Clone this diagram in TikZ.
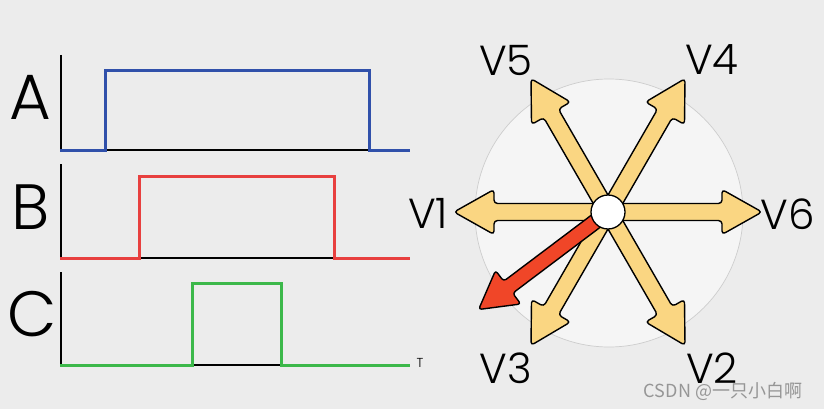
\documentclass[tikz,border=0pt]{standalone}
\usepackage{fontspec}
\setmainfont{Poppins Light}
\newfontfamily\cjk{Noto Sans CJK SC}
\definecolor{bgc}{RGB}{236,236,236}
\definecolor{circfill}{RGB}{245,245,245}
\definecolor{circline}{RGB}{205,205,205}
\definecolor{wblue}{RGB}{48,80,170}
\definecolor{wred}{RGB}{232,64,63}
\definecolor{wgreen}{RGB}{60,184,74}
\definecolor{yfill}{RGB}{250,214,130}
\definecolor{rfill}{RGB}{240,70,40}
\definecolor{wmark}{RGB}{150,150,150}
\tikzset{
  axisline/.style={black, line width=2.2pt},
  baseline/.style={black, line width=2.6pt},
  wave/.style={line width=3pt, line join=miter},
  biglabel/.style={inner sep=0pt, font=\fontsize{64}{64}\selectfont},
  vlabel/.style={inner sep=0pt, font=\fontsize{42}{42}\selectfont},
  yarrow/.style={fill=yfill, draw=black, line width=1.4pt, rounded corners=3.5pt, line join=round},
  rarrow/.style={fill=rfill, draw=black, line width=1.4pt, rounded corners=3pt, line join=round},
}
\begin{document}
\begin{tikzpicture}[x=1pt,y=-1pt]
\useasboundingbox (0,0) rectangle (824,409);
\fill[bgc] (0,0) rectangle (824,409);

% waveform A
\draw[axisline] (61,55) -- (61,151);
\draw[baseline] (105,150) -- (369,150);
\draw[wave, wblue] (60,150) -- (105,150) -- (105,70.5) -- (369,70.5) -- (369,150) -- (410,150);
\node[biglabel] (la) at (30,97) {A};

% waveform B
\draw[axisline] (61,164) -- (61,259);
\draw[baseline] (139,258) -- (334,258);
\draw[wave, wred] (60,258) -- (139,258) -- (139,176) -- (334,176) -- (334,258) -- (410,258);
\node[biglabel] (lb) at (31,207) {B};

% waveform C
\draw[axisline] (61,272) -- (61,366);
\draw[baseline] (192,365) -- (281,365);
\draw[wave, wgreen] (60,365) -- (192,365) -- (192,283) -- (281,283) -- (281,365) -- (410,365);
\node[biglabel] (lc) at (32,314) {C};
\node[inner sep=0pt, font=\fontsize{13}{13}\selectfont] (lt) at (420,363) {T};

% vector diagram
\draw[fill=circfill, draw=circline, line width=0.7pt] (609,213) circle (134pt);
\foreach \ang in {0,120,60}{
  \begin{scope}[shift={(608,212)}, rotate=\ang]
    \draw[yarrow] (-154,0) -- (-114,-22.5) -- (-114,-8.5) -- (114,-8.5) -- (114,-22.5)
      -- (154,0) -- (114,22.5) -- (114,8.5) -- (-114,8.5) -- (-114,22.5) -- cycle;
  \end{scope}
}
\begin{scope}[shift={(608,212)}, rotate=217]
  \draw[rarrow] (0,-7.5) -- (125,-7.5) -- (125,-21) -- (162,0) -- (125,21) -- (125,7.5) -- (0,7.5) -- cycle;
\end{scope}
\node[draw=black, circle, fill=white, minimum size=34pt, inner sep=0pt, line width=1.3pt] (c) at (608,212) {};

\node[vlabel] (v5) at (506,60) {V5};
\node[vlabel] (v4) at (712,60) {V4};
\node[vlabel] (v1) at (428,213) {V1};
\node[vlabel] (v6) at (788,214) {V6};
\node[vlabel] (v3) at (506,368) {V3};
\node[vlabel] (v2) at (712,368) {V2};

\node[inner sep=0pt, text=wmark, font=\cjk\fontsize{18}{18}\selectfont] (wm) at (723,391) {CSDN @一只小白啊};
\end{tikzpicture}
\end{document}
